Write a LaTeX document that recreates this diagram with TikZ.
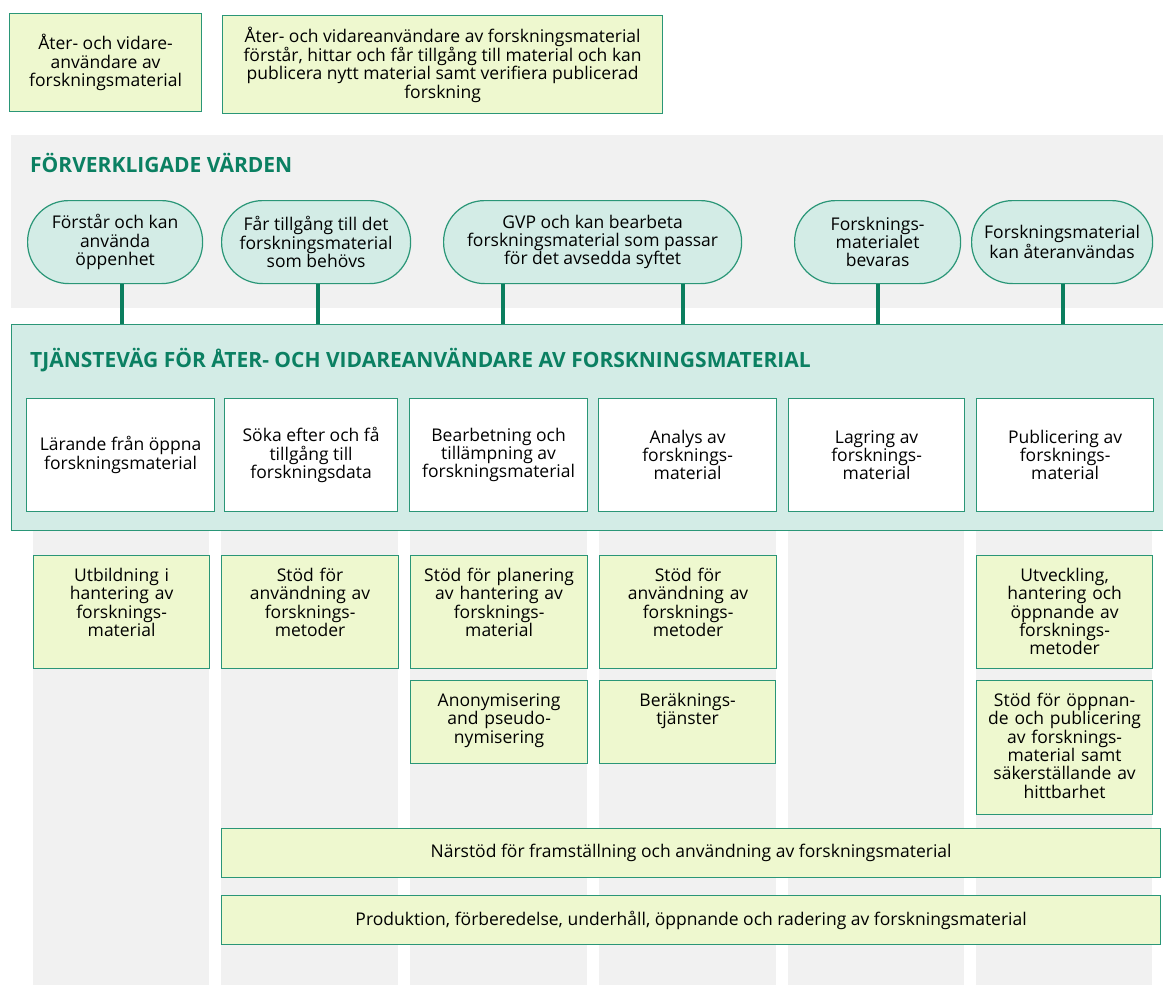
\documentclass[tikz,border=0pt]{standalone}
\usepackage{fontspec}
\setmainfont{Open Sans}
\usepackage{xcolor}
\usepackage{tikz}
\definecolor{boxline}{HTML}{2A9677}
\definecolor{stemgreen}{HTML}{0B7E5E}
\definecolor{titlegreen}{HTML}{0B8062}
\definecolor{tealfill}{HTML}{D3ECE6}
\definecolor{limefill}{HTML}{EEF8CF}
\definecolor{bandgray}{HTML}{F1F1F1}

\tikzset{
  rolebox/.style={draw=boxline, fill=limefill, line width=1.2pt, align=center,
                  inner sep=0pt, anchor=north west},
  valuepill/.style={draw=boxline, fill=tealfill, line width=1.2pt, align=center,
                    rounded corners=41pt, inner sep=0pt, minimum height=83pt, anchor=north west},
  stagebox/.style={draw=boxline, fill=white, line width=1.2pt, align=center,
                   inner sep=0pt, minimum height=113pt, anchor=north west},
  supportbox/.style={draw=boxline, fill=limefill, line width=1.2pt, align=center,
                     inner sep=0pt, text height=26pt, anchor=north west},
  widebox/.style={draw=boxline, fill=limefill, line width=1.2pt, align=center,
                  inner sep=0pt, minimum width=939pt, minimum height=49pt, anchor=north west},
  heading/.style={text=titlegreen, anchor=west, inner sep=0pt,
                  font=\bfseries\fontsize{21}{24}\selectfont},
  stem/.style={draw=stemgreen, line width=3.5pt},
  colband/.style={fill=bandgray}
}

\begin{document}
\begin{tikzpicture}[x=1pt, y=-1pt, font=\fontsize{17.5}{18.3}\selectfont]
  \useasboundingbox (0,0) rectangle (1163,985);

  % background bands
  \fill[colband] (11,135) rectangle (1163,308);
  \fill[colband] (33,520) rectangle (209,985);
  \fill[colband] (221,520) rectangle (398,985);
  \fill[colband] (410,520) rectangle (587,985);
  \fill[colband] (599,520) rectangle (776,985);
  \fill[colband] (788,520) rectangle (964,985);
  \fill[colband] (976,520) rectangle (1152,985);

  % roles
  \node[rolebox, minimum width=192pt, minimum height=98pt] (role) at (9,13)
    {Åter- och vidare-\\användare av\\forskningsmaterial};
  \node[rolebox, minimum width=440pt, minimum height=98pt] (goal) at (222,15)
    {Åter- och vidareanvändare av forskningsmaterial\\förstår, hittar och får tillgång till material och kan\\publicera nytt material samt verifiera publicerad\\forskning};

  % realised values
  \node[heading] (valtitle) at (30,163) {FÖRVERKLIGADE VÄRDEN};
  \node[valuepill, minimum width=175pt] (p1) at (27,200) {Förstår och kan\\använda\\öppenhet};
  \node[valuepill, minimum width=189pt] (p2) at (221,200) {Får tillgång till det\\forskningsmaterial\\som behövs};
  \node[valuepill, minimum width=298pt] (p3) at (443,200) {GVP och kan bearbeta\\forskningsmaterial som passar\\för det avsedda syftet};
  \node[valuepill, minimum width=166pt] (p4) at (794,200) {Forsknings-\\materialet\\bevaras};
  \node[valuepill, minimum width=181pt] (p5) at (971,200) {Forskningsmaterial\\kan återanvändas};

  % service path
  \node[draw=boxline, fill=tealfill, line width=1.2pt, anchor=north west, inner sep=0pt,
        minimum width=1160pt, minimum height=206pt] (tj) at (11,324) {};
  \node[heading] (tjtitle) at (30,360) {TJÄNSTEVÄG FÖR ÅTER- OCH VIDAREANVÄNDARE AV FORSKNINGSMATERIAL};

  \draw[stem] (p1.south -| 122,0) -- (tj.north -| 122,0);
  \draw[stem] (p2.south -| 318,0) -- (tj.north -| 318,0);
  \draw[stem] (p3.south -| 503,0) -- (tj.north -| 503,0);
  \draw[stem] (p3.south -| 683,0) -- (tj.north -| 683,0);
  \draw[stem] (p4.south -| 878,0) -- (tj.north -| 878,0);
  \draw[stem] (p5.south -| 1063,0) -- (tj.north -| 1063,0);

  \node[stagebox, minimum width=188pt] (learn) at (26,398) {Lärande från öppna\\forskningsmaterial};
  \node[stagebox, minimum width=173pt] (search) at (224,398) {Söka efter och få\\tillgång till\\forskningsdata};
  \node[stagebox, minimum width=178pt] (process) at (409,398) {Bearbetning och\\tillämpning av\\forskningsmaterial};
  \node[stagebox, minimum width=178pt] (analyse) at (598,398) {Analys av\\forsknings-\\material};
  \node[stagebox, minimum width=176pt] (store) at (788,398) {Lagring av\\forsknings-\\material};
  \node[stagebox, minimum width=177pt] (publish) at (976,398) {Publicering av\\forsknings-\\material};

  % support services
  \node[supportbox, text width=176pt, text depth=87pt] (edu) at (33,555)
    {Utbildning i\\hantering av\\forsknings-\\material};
  \node[supportbox, text width=177pt, text depth=87pt] (methods) at (221,555)
    {Stöd för\\användning av\\forsknings-\\metoder};
  \node[supportbox, text width=177pt, text depth=87pt] (planning) at (410,555)
    {Stöd för planering\\av hantering av\\forsknings-\\material};
  \node[supportbox, text width=177pt, text depth=87pt] (methods2) at (599,555)
    {Stöd för\\användning av\\forsknings-\\metoder};
  \node[supportbox, text width=176pt, text depth=87pt] (develop) at (976,555)
    {Utveckling,\\hantering och\\öppnande av\\forsknings-\\metoder};
  \node[supportbox, text width=177pt, text depth=57pt] (anon) at (410,680)
    {Anonymisering\\and pseudo-\\nymisering};
  \node[supportbox, text width=176pt, text depth=57pt] (compute) at (599,680)
    {Beräknings-\\tjänster};
  \node[supportbox, text width=176pt, text depth=108pt] (opening) at (976,680)
    {Stöd för öppnan-\\de och publicering\\av forsknings-\\material samt\\säkerställande av\\hittbarhet};

  \node[widebox] (nearby) at (221,828) {Närstöd för framställning och användning av forskningsmaterial};
  \node[widebox] (lifecycle) at (221,895) {Produktion, förberedelse, underhåll, öppnande och radering av forskningsmaterial};
\end{tikzpicture}
\end{document}
